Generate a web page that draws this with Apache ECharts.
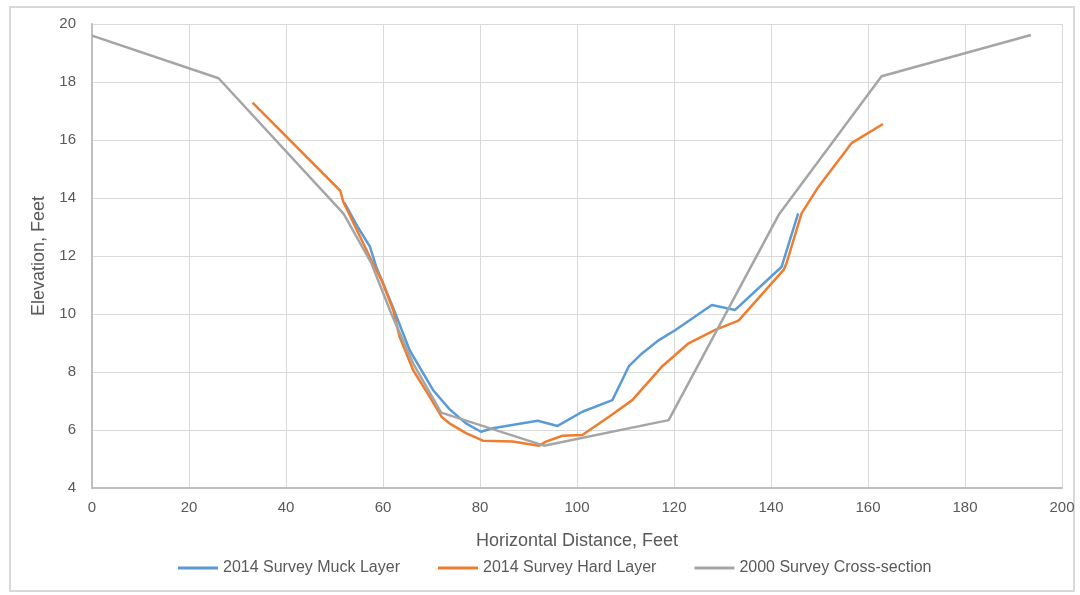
<!DOCTYPE html>
<html>
<head>
<meta charset="utf-8">
<script src="https://cdn.jsdelivr.net/npm/echarts@6/dist/echarts.min.js"></script>
<style>
html,body{margin:0;padding:0;background:#fff;}
#chart{width:1080px;height:595px;}
</style>
</head>
<body>
<div id="chart"></div>
<script>
var seriesNames = ['2014 Survey Muck Layer', '2014 Survey Hard Layer', '2000 Survey Cross-section'];
var xTicks = [0, 20, 40, 60, 80, 100, 120, 140, 160, 180, 200];
var yTicks = [4, 6, 8, 10, 12, 14, 16, 18, 20];

var muckX = [52, 54.8, 57.3, 58.6, 62, 65.5, 70.3, 73.7, 77.1, 80.2, 82.6, 91.9, 96, 101.1, 107.3, 110.7, 113.4, 116.9, 120.3, 127.8, 132.6, 142.2, 145.6];
var muckY = [13.85, 13.0, 12.32, 11.63, 10.25, 8.75, 7.38, 6.72, 6.23, 5.94, 6.06, 6.32, 6.14, 6.63, 7.03, 8.2, 8.64, 9.1, 9.45, 10.31, 10.14, 11.63, 13.47];

var hardX = [33.1, 51.2, 51.8, 57.9, 59.7, 62.1, 63.4, 66.2, 69.6, 72.1, 73.7, 77.1, 80.6, 86.7, 92.2, 93.6, 97, 101.1, 106.6, 111.4, 117.6, 123, 128.5, 133.3, 142.6, 143.2, 146.3, 149.8, 156.6, 163.1];
var hardY = [17.29, 14.25, 13.87, 11.75, 11.17, 10.14, 9.22, 8.07, 7.15, 6.45, 6.23, 5.89, 5.63, 5.6, 5.46, 5.6, 5.8, 5.83, 6.46, 7.03, 8.2, 8.99, 9.45, 9.77, 11.52, 11.75, 13.47, 14.39, 15.89, 16.55];

var xsX = [0, 26.1, 51.9, 57.6, 61.7, 66.2, 72, 93.2, 118.9, 141.7, 162.8, 193.6];
var xsY = [19.6, 18.13, 13.45, 11.75, 10.02, 8.3, 6.6, 5.46, 6.34, 13.45, 18.2, 19.62];

function zip(a, b) { return a.map(function (v, i) { return [v, b[i]]; }); }

var colors = ['#5b9bd5', '#ed7d31', '#a5a5a5'];
var font = "'Liberation Sans', sans-serif";

var chart = echarts.init(document.getElementById('chart'), null, {renderer: 'canvas'});
var lineSeries = [zip(muckX, muckY), zip(hardX, hardY), zip(xsX, xsY)].map(function (d, i) {
  return {
    name: seriesNames[i],
    type: 'line',
    data: d,
    showSymbol: false,
    symbol: 'none',
    smooth: false,
    lineStyle: {color: colors[i], width: 2.5},
    itemStyle: {color: colors[i]},
    z: 3 + i
  };
});

chart.setOption({
  animation: false,
  backgroundColor: '#ffffff',
  color: colors,
  textStyle: {fontFamily: font},
  graphic: [{
    type: 'rect',
    shape: {x: 10, y: 7, width: 1064, height: 584},
    style: {fill: 'none', stroke: '#d9d9d9', lineWidth: 2},
    silent: true, z: -1
  }],
  grid: {left: 92, right: 18, top: 24, bottom: 107, containLabel: false},
  legend: {
    data: seriesNames,
    bottom: 14,
    left: 173,
    icon: 'rect',
    itemWidth: 40,
    itemHeight: 3,
    itemGap: 38,
    textStyle: {color: '#595959', fontSize: 16, fontFamily: font}
  },
  xAxis: {
    type: 'value',
    min: 0, max: 200, interval: 20,
    name: 'Horizontal Distance, Feet',
    nameLocation: 'middle',
    nameGap: 44,
    nameTextStyle: {color: '#595959', fontSize: 18, fontFamily: font},
    axisLine: {show: true, onZero: false, lineStyle: {color: '#bfbfbf', width: 2}},
    axisTick: {show: false},
    axisLabel: {color: '#595959', fontSize: 15, margin: 12, fontFamily: font,
      formatter: function (v) { return xTicks.indexOf(v) >= 0 ? String(v) : ''; }},
    splitLine: {show: true, lineStyle: {color: '#d9d9d9', width: 1}}
  },
  yAxis: {
    type: 'value',
    min: 4, max: 20, interval: 2,
    name: 'Elevation, Feet',
    nameLocation: 'middle',
    nameGap: 43,
    nameTextStyle: {color: '#595959', fontSize: 18, fontFamily: font},
    axisLine: {show: true, lineStyle: {color: '#bfbfbf', width: 2}},
    axisTick: {show: false},
    axisLabel: {color: '#595959', fontSize: 15, margin: 16, fontFamily: font,
      formatter: function (v) { return yTicks.indexOf(v) >= 0 ? String(v) : ''; }},
    splitLine: {show: true, lineStyle: {color: '#d9d9d9', width: 1}}
  },
  series: lineSeries
});
</script>
</body>
</html>
